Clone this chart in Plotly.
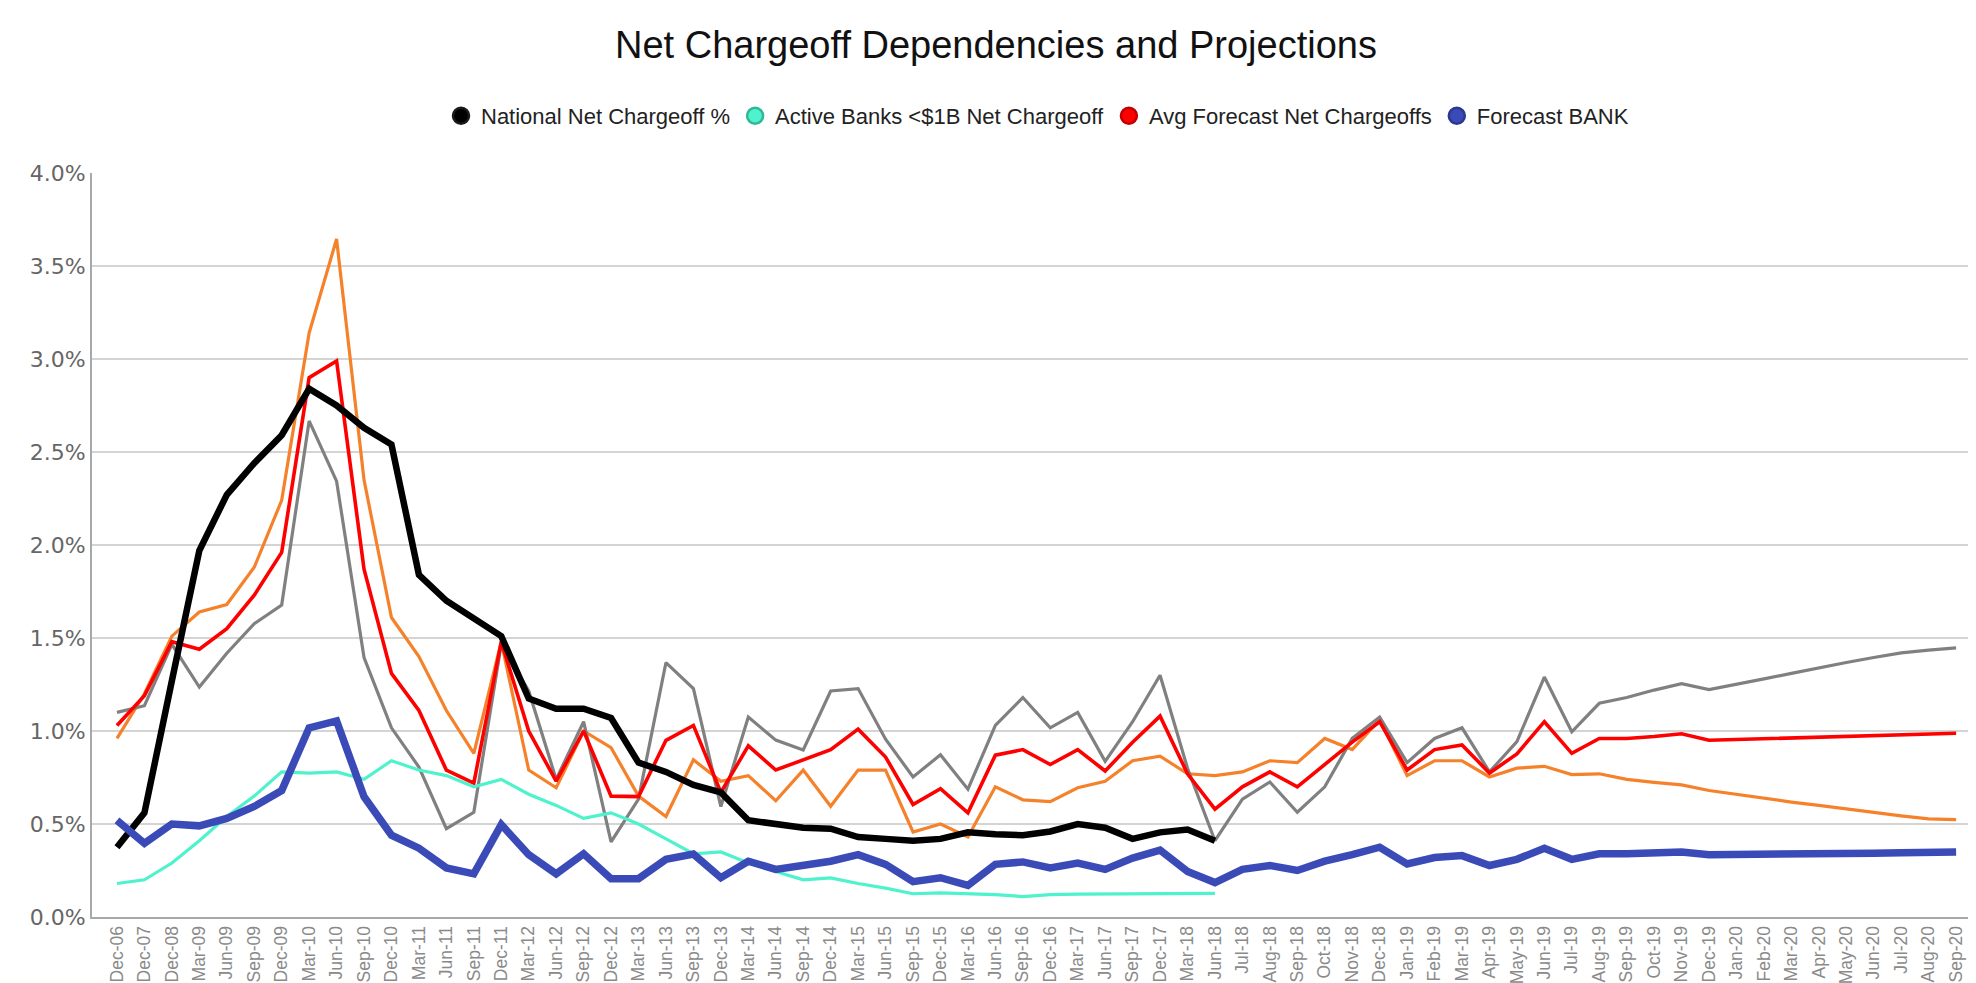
import plotly.graph_objects as go

categories = ["Dec-06", "Dec-07", "Dec-08",
    "Mar-09", "Jun-09", "Sep-09", "Dec-09",
    "Mar-10", "Jun-10", "Sep-10", "Dec-10",
    "Mar-11", "Jun-11", "Sep-11", "Dec-11",
    "Mar-12", "Jun-12", "Sep-12", "Dec-12",
    "Mar-13", "Jun-13", "Sep-13", "Dec-13",
    "Mar-14", "Jun-14", "Sep-14", "Dec-14",
    "Mar-15", "Jun-15", "Sep-15", "Dec-15",
    "Mar-16", "Jun-16", "Sep-16", "Dec-16",
    "Mar-17", "Jun-17", "Sep-17", "Dec-17",
    "Mar-18", "Jun-18", "Jul-18", "Aug-18", "Sep-18", "Oct-18", "Nov-18", "Dec-18",
    "Jan-19", "Feb-19", "Mar-19", "Apr-19", "May-19", "Jun-19", "Jul-19", "Aug-19",
    "Sep-19", "Oct-19", "Nov-19", "Dec-19",
    "Jan-20", "Feb-20", "Mar-20", "Apr-20", "May-20", "Jun-20", "Jul-20", "Aug-20", "Sep-20"]

national = [0.375, 0.56, 1.27, 1.97, 2.27, 2.44, 2.59, 2.84, 2.75, 2.63, 2.54,
    1.84, 1.70, 1.60, 1.51, 1.175, 1.12, 1.12, 1.07, 0.83, 0.78, 0.71, 0.67,
    0.52, 0.50, 0.48, 0.475, 0.43, 0.42, 0.41, 0.42, 0.455, 0.445, 0.44, 0.46,
    0.50, 0.48, 0.42, 0.455, 0.47, 0.41] + [None] * 27

active_banks = [0.18, 0.20, 0.29, 0.41, 0.54, 0.65, 0.78, 0.774, 0.78, 0.74, 0.84,
    0.79, 0.76, 0.70, 0.74, 0.66, 0.60, 0.53, 0.56, 0.50, 0.42, 0.34, 0.35,
    0.29, 0.245, 0.20, 0.21, 0.18, 0.155, 0.125, 0.13, 0.127, 0.12, 0.11, 0.12,
    0.123, 0.124, 0.125, 0.125, 0.126, 0.127] + [None] * 27

avg_forecast = [1.03, 1.19, 1.48, 1.44, 1.55, 1.73, 1.96, 2.90, 2.99, 1.87, 1.31,
    1.11, 0.79, 0.72, 1.48, 1.00, 0.73, 1.00, 0.65, 0.647, 0.95, 1.03, 0.67,
    0.92, 0.79, 0.845, 0.90, 1.01, 0.86, 0.605, 0.69, 0.56, 0.87, 0.90, 0.82,
    0.90, 0.785, 0.94, 1.08, 0.77, 0.58, 0.70, 0.78, 0.70, 0.82, 0.94, 1.05,
    0.79, 0.90, 0.925, 0.774, 0.877, 1.05, 0.88, 0.96, 0.96, 0.97, 0.985, 0.95,
    0.954, 0.956, 0.96, 0.964, 0.97, 0.975, 0.977, 0.98, 0.988]

orange_series = [0.96, 1.20, 1.51, 1.64, 1.68, 1.88, 2.24, 3.14, 3.645, 2.35, 1.61,
    1.40, 1.11, 0.88, 1.48, 0.79, 0.695, 1.00, 0.91, 0.65, 0.54, 0.845, 0.73,
    0.76, 0.625, 0.79, 0.595, 0.79, 0.79, 0.457, 0.50, 0.43, 0.70, 0.63, 0.62,
    0.695, 0.73, 0.84, 0.865, 0.77, 0.76, 0.78, 0.84, 0.83, 0.96, 0.90, 1.06,
    0.76, 0.84, 0.84, 0.753, 0.80, 0.81, 0.766, 0.77, 0.74, 0.724, 0.71, 0.68,
    0.658, 0.64, 0.618, 0.60, 0.58, 0.563, 0.544, 0.528, 0.523]

gray_series = [1.10, 1.136, 1.466, 1.236, 1.418, 1.577, 1.677, 2.667, 2.343, 1.395, 1.017,
    0.806, 0.475, 0.563, 1.466, 1.215, 0.74, 1.05, 0.404, 0.634, 1.368, 1.228, 0.594,
    1.075, 0.951, 0.898, 1.215, 1.228, 0.956, 0.753, 0.872, 0.687, 1.03, 1.18, 1.017,
    1.10, 0.837, 1.05, 1.30, 0.80, 0.41, 0.634, 0.726, 0.563, 0.70, 0.96, 1.075,
    0.83, 0.96, 1.017, 0.78, 0.943, 1.29, 0.996, 1.149, 1.18, 1.22, 1.255, 1.223,
    1.25, 1.28, 1.31, 1.34, 1.368, 1.395, 1.42, 1.435, 1.447]

forecast_bank = [0.52, 0.396, 0.50, 0.49, 0.53, 0.594, 0.68, 1.017, 1.054, 0.647, 0.44,
    0.37, 0.264, 0.232, 0.497, 0.335, 0.232, 0.34, 0.206, 0.206, 0.31, 0.338, 0.211,
    0.30, 0.256, 0.277, 0.30, 0.335, 0.283, 0.19, 0.211, 0.17, 0.283, 0.296, 0.264,
    0.29, 0.256, 0.317, 0.36, 0.245, 0.185, 0.256, 0.277, 0.25, 0.30, 0.335, 0.375,
    0.285, 0.32, 0.33, 0.277, 0.31, 0.37, 0.31, 0.34, 0.34, 0.343, 0.349, 0.335,
    0.338, 0.339, 0.34, 0.341, 0.342, 0.343, 0.345, 0.347, 0.35]

y_ticks = [0, 0.5, 1.0, 1.5, 2.0, 2.5, 3.0, 3.5, 4.0]

fig = go.Figure()

line_traces = [
    ("Orange", orange_series, "#f5822a", 3.2),
    ("Gray", gray_series, "#808080", 3.2),
    ("Avg Forecast Net Chargeoffs", avg_forecast, "#ff0000", 3.6),
    ("Active Banks <$1B Net Chargeoff", active_banks, "#4ef2cc", 3.2),
    ("National Net Chargeoff %", national, "#000000", 6.5),
    ("Forecast BANK", forecast_bank, "#3a4bb8", 7.5),
]
for name, vals, color, width in line_traces:
    fig.add_trace(go.Scatter(x=categories, y=vals, mode="lines", name=name,
                             line=dict(color=color, width=width),
                             showlegend=False, connectgaps=False))

legend_items = [
    ("National Net Chargeoff %", "#000000", "#1a1a1a"),
    ("Active Banks <$1B Net Chargeoff", "#4ef2cc", "#2fb896"),
    ("Avg Forecast Net Chargeoffs", "#ff0000", "#c00000"),
    ("Forecast BANK", "#3a4bb8", "#2a3890"),
]
for name, color, edge in legend_items:
    fig.add_trace(go.Scatter(x=[None], y=[None], mode="markers", name=name,
                             marker=dict(color=color, size=16, symbol="circle",
                                         line=dict(color=edge, width=2.5)),
                             showlegend=True))

fig.update_layout(
    width=1976, height=983,
    paper_bgcolor="white", plot_bgcolor="white",
    margin=dict(l=84, r=1, t=165, b=74, autoexpand=False),
    title=dict(text="Net Chargeoff Dependencies and Projections",
               x=0.5, xanchor="center", y=0.963, yanchor="middle",
               font=dict(family="Liberation Sans, Arial", size=38, color="#111111")),
    legend=dict(orientation="h", x=0.5, xanchor="center", y=1.0 + 57 / 744, yanchor="middle",
                font=dict(family="Liberation Sans, Arial", size=22, color="#222222"),
                bgcolor="rgba(0,0,0,0)"),
    xaxis=dict(type="category", categoryorder="array", categoryarray=categories,
               range=[-0.91, 67.98], tickangle=-90, automargin=False,
               tickfont=dict(family="Liberation Sans, Arial", size=17.5, color="#8a8a8a"),
               showgrid=False, showline=True, linecolor="#a8a8a8", linewidth=2,
               ticks="", zeroline=False),
    yaxis=dict(range=[0, 4.0], tickvals=y_ticks, ticktext=[f"{v:.1f}%" for v in y_ticks],
               automargin=False,
               tickfont=dict(family="DejaVu Sans", size=22, color="#666666"),
               showgrid=True, gridcolor="#d4d4d4", gridwidth=1.5,
               showline=True, linecolor="#a8a8a8", linewidth=2,
               zeroline=False, ticks=""),
)

fig.write_html("out.html")
